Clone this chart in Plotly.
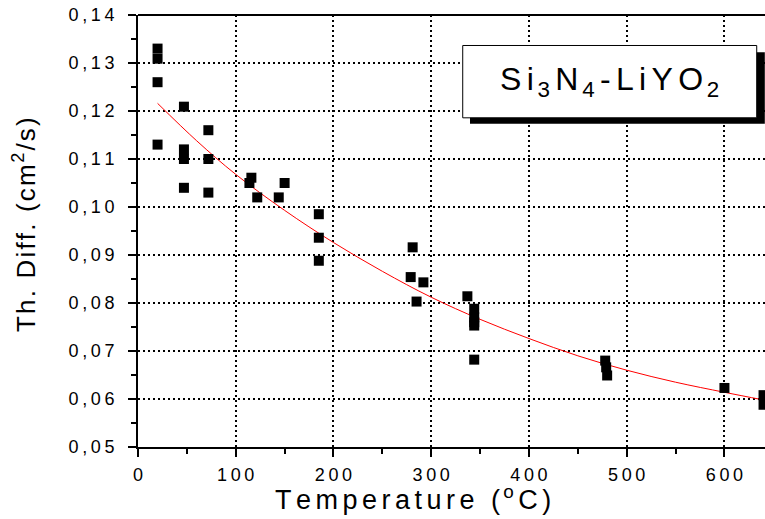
import re
import plotly.graph_objects as go

# ---- data ----
temperature = [20, 20, 20, 20,
               47, 47, 47, 47,
               72, 72, 72,
               114, 116, 122, 144, 150,
               185, 185, 185,
               281, 279, 292, 285,
               337, 344, 344, 344, 344, 344,
               478, 479, 480,
               600,
               640, 640]
diffusivity = [0.1330, 0.1309, 0.1260, 0.1130,
               0.1209, 0.1120, 0.1100, 0.1040,
               0.1160, 0.1100, 0.1030,
               0.1050, 0.1061, 0.1020, 0.1020, 0.1050,
               0.0985, 0.0936, 0.0888,
               0.0916, 0.0854, 0.0843, 0.0803,
               0.0814, 0.0788, 0.0770, 0.0760, 0.0753, 0.0682,
               0.0680, 0.0666, 0.0649,
               0.0623,
               0.0608, 0.0588]

fit_temperature = [20, 60, 100, 150, 200, 250, 300, 350, 400, 450, 500, 550, 600, 640]
fit_diffusivity = [0.1216, 0.1138, 0.1068, 0.0993, 0.0926, 0.0866, 0.0812,
                   0.0766, 0.0726, 0.0690, 0.0660, 0.0635, 0.0614, 0.0598]

x_tick_values = [0, 100, 200, 300, 400, 500, 600]
x_tick_labels = ["0", "100", "200", "300", "400", "500", "600"]
y_tick_values = [0.05, 0.06, 0.07, 0.08, 0.09, 0.10, 0.11, 0.12, 0.13, 0.14]
y_tick_labels = ["0,05", "0,06", "0,07", "0,08", "0,09", "0,10", "0,11", "0,12", "0,13", "0,14"]

x_title = "Temperature (<sup>o</sup>C)"
y_title = "Th. Diff. (cm<sup>2</sup>/s)"
sample_label = "Si<sub>3</sub>N<sub>4</sub>-LiYO<sub>2</sub>"

THIN = "\u2009"
SIXTH = "\u2006"
HAIR = "\u200a"


def spaced(s, gap):
    out = []
    first = True
    for tok in re.split(r"(<[^>]+>)", s):
        if tok.startswith("<"):
            out.append(tok)
            continue
        for ch in tok:
            if not first:
                out.append(gap)
            out.append(ch)
            first = False
    return "".join(out)


FONT = "Liberation Sans, Arial, sans-serif"

fig = go.Figure()
fig.add_trace(go.Scatter(
    x=fit_temperature, y=fit_diffusivity, mode="lines",
    line=dict(color="red", width=1, shape="spline"),
    hoverinfo="skip"))
fig.add_trace(go.Scatter(
    x=temperature, y=diffusivity, mode="markers",
    marker=dict(symbol="square", size=10, color="black", line=dict(width=0))))

axis_common = dict(
    showline=True, linewidth=2, linecolor="black", mirror=False,
    ticks="outside", ticklen=8, tickwidth=2, tickcolor="black",
    showgrid=True, gridcolor="black", gridwidth=1.5, griddash="2px,3px",
    zeroline=False, automargin=False,
    tickfont=dict(family=FONT, size=18, color="black"),
)

fig.update_xaxes(
    range=[0, 641.5], tickvals=x_tick_values,
    ticktext=[spaced(t, THIN) for t in x_tick_labels],
    minor=dict(dtick=50, ticks="outside", ticklen=5, tickwidth=2,
               tickcolor="black", showgrid=False),
    ticklabelstandoff=2,
    **axis_common)
fig.update_yaxes(
    range=[0.05, 0.14], tickvals=y_tick_values,
    ticktext=[spaced(t, THIN) for t in y_tick_labels],
    minor=dict(dtick=0.005, ticks="outside", ticklen=5, tickwidth=2,
               tickcolor="black", showgrid=False),
    ticklabelstandoff=10,
    **axis_common)

# top frame line (right side of the frame lies outside the picture)
fig.add_shape(type="line", xref="paper", yref="paper",
              x0=0, x1=1, y0=1, y1=1, line=dict(color="black", width=2))

# sample label box with drop shadow
fig.add_shape(type="rect", xref="paper", yref="paper",
              x0=0.5295, x1=0.9997, y0=0.748, y1=0.9139,
              fillcolor="black", line=dict(width=0), layer="above")
fig.add_shape(type="rect", xref="paper", yref="paper",
              x0=0.5179, x1=0.9868, y0=0.762, y1=0.9294,
              fillcolor="white", line=dict(color="black", width=1), layer="above")
fig.add_annotation(xref="paper", yref="paper", x=0.7524, y=0.8457,
                   text=spaced(sample_label, SIXTH), showarrow=False,
                   xanchor="center", yanchor="middle",
                   font=dict(family=FONT, size=32, color="black"))

fig.add_annotation(xref="paper", yref="paper", x=0.4386, y=-0.118,
                   text=spaced(x_title, SIXTH), showarrow=False,
                   xanchor="center", yanchor="middle",
                   font=dict(family=FONT, size=27, color="black"))
fig.add_annotation(xref="paper", yref="paper", x=-0.182, y=0.516,
                   text=spaced(y_title, HAIR), showarrow=False, textangle=-90,
                   xanchor="center", yanchor="middle",
                   font=dict(family=FONT, size=26, color="black"))

fig.update_layout(
    template="none",
    width=765, height=519,
    margin=dict(l=138, r=0, t=15, b=72, pad=0),
    paper_bgcolor="white", plot_bgcolor="white",
    showlegend=False,
    font=dict(family=FONT, color="black"),
)

fig.write_html("out.html", config={"displayModeBar": False},
               post_script="document.body.style.margin='0px';")
